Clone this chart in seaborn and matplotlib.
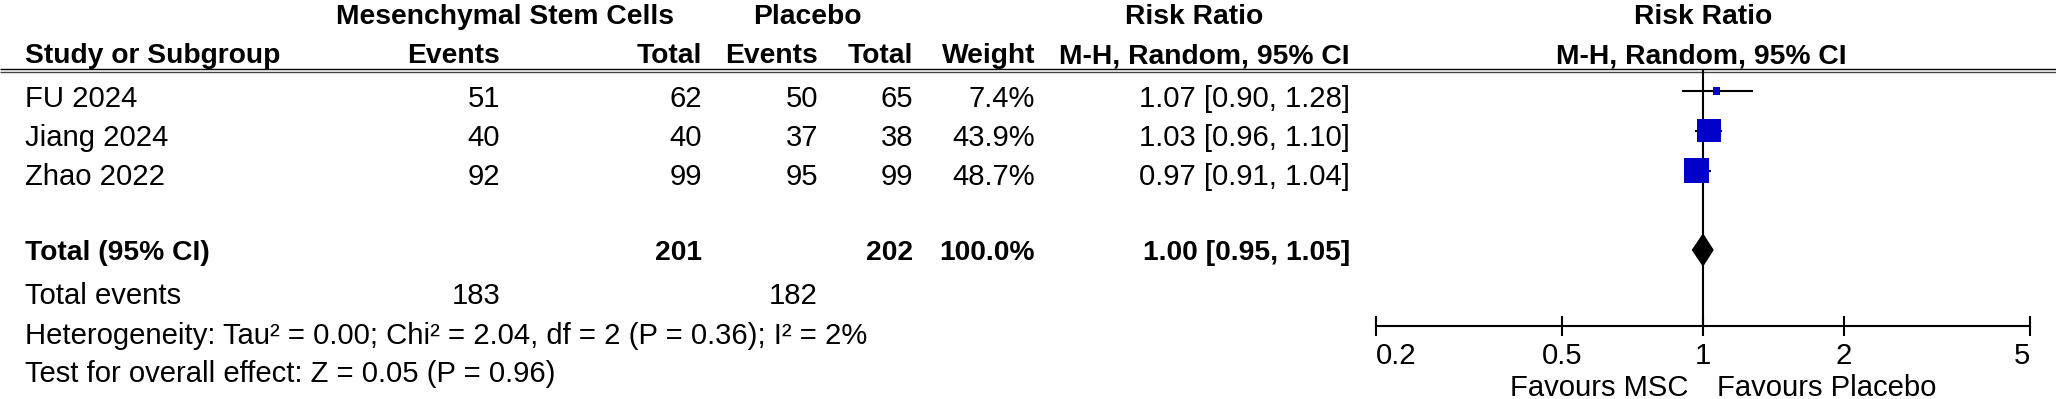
import numpy as np
import pandas as pd
import matplotlib
matplotlib.use('Agg')
import matplotlib.pyplot as plt
import seaborn as sns

# data
studies = ['FU 2024', 'Jiang 2024', 'Zhao 2022']
msc_events = [51, 40, 92]
msc_total = [62, 40, 99]
pla_events = [50, 37, 95]
pla_total = [65, 38, 99]
weights = [7.4, 43.9, 48.7]
rr = [1.07, 1.03, 0.97]
ci_lo = [0.90, 0.96, 0.91]
ci_hi = [1.28, 1.10, 1.04]

total_rr, total_lo, total_hi = 1.00, 0.95, 1.05
total_msc, total_pla = 201, 202
events_msc, events_pla = 183, 182
het_text = 'Heterogeneity: Tau² = 0.00; Chi² = 2.04, df = 2 (P = 0.36); I² = 2%'
test_text = 'Test for overall effect: Z = 0.05 (P = 0.96)'
xticks = [0.2, 0.5, 1, 2, 5]
fav_left, fav_right = 'Favours MSC', 'Favours Placebo'

sns.set_style('white')
plt.rcParams['font.family'] = ['Liberation Sans', 'DejaVu Sans']
FS = 21.1
FS_B = 20.3  # bold text in the reference runs a bit narrower
W, H = 2056, 399

fig = plt.figure(figsize=(W / 100, H / 100), dpi=100)

# background axes in pixel coordinates for the table part
bg = fig.add_axes([0, 0, 1, 1])
bg.set_xlim(0, W)
bg.set_ylim(H, 0)
bg.axis('off')

def txt(x, y, s, ha='right', bold=False):
    bg.text(x, y, s, ha=ha, va='baseline', fontsize=FS_B if bold else FS,
            fontweight='bold' if bold else 'normal', color='black')

# column right edges (px)
c_study, c_me, c_mt, c_pe, c_pt, c_w, c_ci = 25, 500, 702, 818, 913, 1035, 1350

# headers
txt(505, 23.5, 'Mesenchymal Stem Cells', ha='center', bold=True)
txt(807, 23.5, 'Placebo', ha='center', bold=True)
txt(1194, 23.5, 'Risk Ratio', ha='center', bold=True)
txt(1703, 23.5, 'Risk Ratio', ha='center', bold=True)
txt(c_study, 63, 'Study or Subgroup', ha='left', bold=True)
for x, s in [(c_me, 'Events'), (c_mt, 'Total'), (c_pe, 'Events'), (c_pt, 'Total'),
             (c_w, 'Weight'), (c_ci, 'M-H, Random, 95% CI')]:
    txt(x, 63, s, bold=True)
txt(1701, 63, 'M-H, Random, 95% CI', ha='center', bold=True)

# double header rule
bg.plot([0, W], [69, 69], color='black', lw=1.0, solid_capstyle='butt')
bg.plot([0, W], [72, 72], color='#444444', lw=1.0, solid_capstyle='butt')

# study rows
row_base = [107, 146, 185]
for i, s in enumerate(studies):
    y = row_base[i]
    txt(c_study, y, s, ha='left')
    txt(c_me, y, str(msc_events[i]))
    txt(c_mt, y, str(msc_total[i]))
    txt(c_pe, y, str(pla_events[i]))
    txt(c_pt, y, str(pla_total[i]))
    txt(c_w, y, f'{weights[i]:.1f}%')
    txt(c_ci, y, f'{rr[i]:.2f} [{ci_lo[i]:.2f}, {ci_hi[i]:.2f}]')

# total row
txt(c_study, 260, 'Total (95% CI)', ha='left', bold=True)
txt(c_mt, 260, str(total_msc), bold=True)
txt(c_pt, 260, str(total_pla), bold=True)
txt(c_w, 260, f'{sum(weights):.1f}%', bold=True)
txt(c_ci, 260, f'{total_rr:.2f} [{total_lo:.2f}, {total_hi:.2f}]', bold=True)

txt(c_study, 304, 'Total events', ha='left')
txt(c_me, 304, str(events_msc))
txt(c_pe, 304, str(events_pla))
txt(c_study, 344, het_text, ha='left')
txt(c_study, 382, test_text, ha='left')

txt(1688, 396, fav_left)
txt(1717, 396, fav_right, ha='left')

# forest plot axes
x0, x1, ytop, ybot = 1376, 2030, 70, 326
ax = fig.add_axes([x0 / W, 1 - ybot / H, (x1 - x0) / W, (ybot - ytop) / H])
ax.patch.set_alpha(0)
ax.set_xscale('log')
ax.set_xlim(xticks[0], xticks[-1])
row_px = 39.75
ax.set_ylim((ybot - 91) / row_px, (ytop - 91) / row_px)

rows = np.arange(len(studies))
df = pd.DataFrame({'rr': rr, 'row': rows, 'weight': weights})

ax.axvline(1, color='black', lw=1.5, zorder=1)
ax.hlines(rows, ci_lo, ci_hi, color='black', lw=1.5, zorder=2)
sns.scatterplot(data=df, x='rr', y='row', size='weight', sizes=(28, 320),
                size_norm=(min(weights), max(weights)), marker='s',
                color='#0000C8', linewidth=0, legend=False, ax=ax, zorder=3)

total_row = 4
dh = 0.39
ax.fill([total_lo, total_rr, total_hi, total_rr],
        [total_row, total_row - dh, total_row, total_row + dh],
        color='black', zorder=4)

for side in ['top', 'left', 'right']:
    ax.spines[side].set_visible(False)
ax.spines['bottom'].set_linewidth(1.5)
ax.spines['bottom'].set_color('black')
ax.set_xticks(xticks)
ax.set_xticklabels([f'{t:g}' for t in xticks])
ax.minorticks_off()
ax.tick_params(axis='x', which='major', direction='inout', length=14, width=1.5,
               pad=4.5, labelsize=FS, color='black', labelcolor='black', bottom=True)
ax.tick_params(axis='y', left=False, labelleft=False)
labels = ax.get_xticklabels()
labels[0].set_ha('left')
labels[-1].set_ha('right')
ax.set_xlabel('')
ax.set_ylabel('')

fig.savefig('out.png', dpi=100)
